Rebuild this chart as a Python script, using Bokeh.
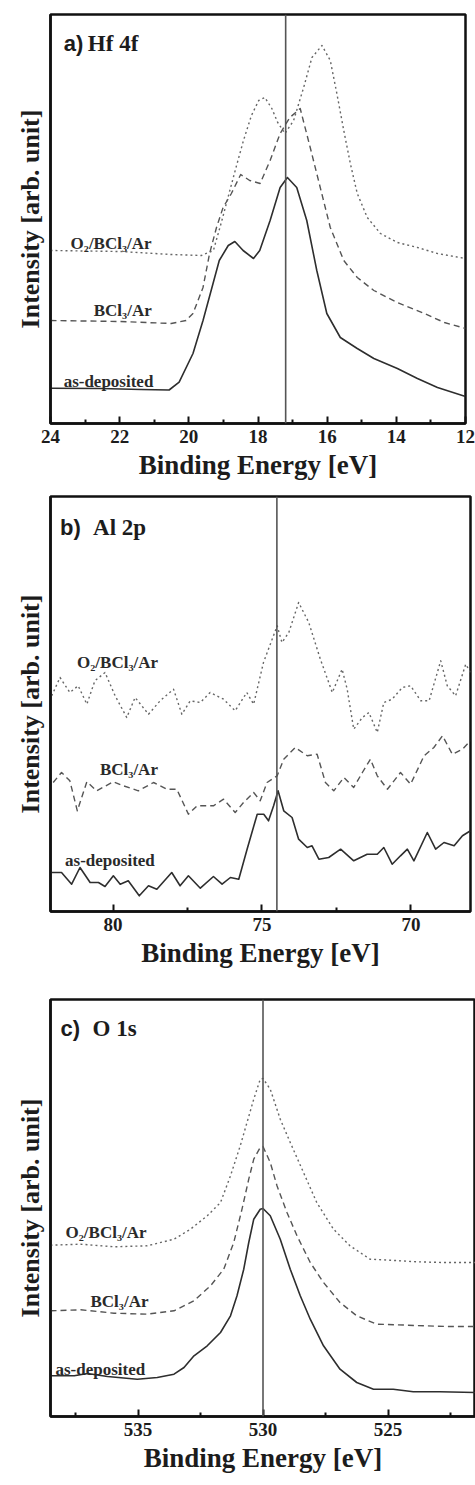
from bokeh.plotting import figure
from bokeh.models import Range1d, FixedTicker, Span, Label
from bokeh.layouts import column
from bokeh.embed import file_html
from bokeh.resources import INLINE

# ---------------- (a) Hf 4f ----------------
hf_asdep_e = [24.0, 22.55, 21.38, 20.57, 20.28, 19.88, 19.59, 19.30, 19.12, 18.86, 18.67, 18.43,
              18.13, 17.95, 17.65, 17.36, 17.15, 16.88, 16.59, 16.30, 16.01, 15.62, 15.13, 14.65,
              13.97, 13.39, 12.81, 12.0]
hf_asdep_i = [35.3, 35, 34, 33.5, 41.3, 70, 103, 140, 163, 178, 182, 173,
              165, 173, 203, 236, 246, 236, 203, 153, 110, 86, 75, 65,
              55, 45, 36, 27]
hf_bcl_e = [24.0, 21.97, 20.51, 20.08, 19.88, 19.59, 19.40, 19.20, 19.01, 18.77, 18.50, 18.24,
            17.94, 17.65, 17.36, 17.08, 16.78, 16.49, 16.20, 15.91, 15.52, 15.13, 14.65, 13.97,
            13.19, 12.61, 12.0]
hf_bcl_i = [103, 102, 100, 103, 110, 136, 170, 196, 216, 230, 249, 243,
            240, 263, 290, 306, 315, 276, 236, 196, 163, 146, 133, 121,
            110, 101, 95]
hf_o2_e = [24.0, 21.97, 20.51, 19.64, 19.29, 19.06, 18.83, 18.62, 18.42, 18.19, 17.98, 17.80,
           17.60, 17.43, 17.22, 16.97, 16.68, 16.44, 16.15, 15.91, 15.72, 15.52, 15.33, 15.13,
           14.84, 14.46, 13.97, 13.39, 12.81, 12.0]
hf_o2_i = [173, 172, 169, 168, 173, 201, 231, 258, 283, 308, 323, 326,
           315, 301, 290, 303, 336, 366, 378, 363, 330, 293, 260, 230,
           206, 190, 181, 176, 170, 165]
hf_ref = 17.2

# ---------------- (b) Al 2p ----------------
al_asdep_e = [82.06, 81.73, 81.39, 81.11, 80.77, 80.49, 80.27, 79.99, 79.76, 79.49, 79.12, 78.81,
              78.53, 78.03, 77.75, 77.47, 77.07, 76.63, 76.34, 76.06, 75.78, 75.50, 75.16, 74.94,
              74.78, 74.61, 74.46, 74.27, 73.99, 73.77, 73.48, 73.32, 73.09, 72.76, 72.36, 71.92,
              71.47, 71.13, 70.91, 70.63, 70.35, 70.12, 69.90, 69.45, 69.17, 68.89, 68.55, 68.27,
              68.0]
al_asdep_i = [39, 39, 27.3, 44, 29, 29, 25, 35.7, 27.3, 30.7, 15.7, 25.7,
              22.3, 39, 25.7, 35.7, 23.3, 35, 27.3, 34, 32.3, 62.3, 97.3, 97.3,
              90.7, 105.7, 120.7, 100.7, 94, 72.3, 64, 65.7, 52.3, 54, 62.3, 50.7,
              57.3, 57.3, 64, 47.3, 55.7, 62.3, 50.7, 79, 62.3, 69, 65.7, 75.7,
              80.7]
al_bcl_e = [82.01, 81.73, 81.45, 81.20, 80.88, 80.55, 79.99, 79.65, 79.15, 78.64, 78.19, 77.86,
            77.47, 77.18, 76.63, 76.29, 75.90, 75.62, 75.28, 75.06, 74.83, 74.49, 74.27, 73.88,
            73.48, 73.15, 72.87, 72.59, 72.25, 71.92, 71.63, 71.36, 71.13, 70.79, 70.35, 70.01,
            69.56, 69.23, 68.94, 68.61, 68.27, 68.0]
al_bcl_i = [129, 139, 130.7, 100.7, 129.7, 120.7, 129.7, 125.7, 120.7, 129, 122.3, 122.3,
            97.3, 105.7, 105.7, 112.3, 99, 109, 119, 110.7, 129, 135.7, 152.3, 164,
            155.7, 157.3, 129, 120.7, 134, 124, 139, 152.3, 135.7, 122.3, 139, 127.3,
            155.7, 164, 175.7, 157.3, 162.3, 170.7]
al_o2_e = [82.06, 81.78, 81.45, 81.17, 80.88, 80.61, 80.27, 79.93, 79.54, 79.26, 78.81, 78.42,
           77.97, 77.69, 77.41, 77.07, 76.74, 76.29, 75.90, 75.51, 75.28, 74.95, 74.49, 74.33,
           74.10, 73.77, 73.43, 73.04, 72.64, 72.31, 72.14, 71.92, 71.63, 71.41, 71.13, 70.91,
           70.63, 70.29, 70.01, 69.67, 69.39, 69.00, 68.78, 68.50, 68.16, 68.0]
al_o2_i = [215.7, 234, 219, 225.7, 207.3, 230.7, 239, 215.7, 194, 214, 197.3, 210.7,
           222.3, 197.3, 210.7, 209, 219, 212.3, 200.7, 219, 207.3, 249, 285.7, 269,
           279, 309, 289, 252.3, 219, 242.3, 222.3, 182.3, 194, 199, 179, 209,
           212.3, 224, 225.7, 210.7, 210.7, 250.7, 225.7, 215.7, 247.3, 239]
al_ref = 74.5

# ---------------- (c) O 1s ----------------
o_asdep_e = [538.5, 537.55, 537.02, 536.22, 535.03, 534.23, 533.56, 533.16, 532.76, 532.23, 531.70,
             531.30, 531.04, 530.77, 530.57, 530.37, 530.11, 530.0, 529.71, 529.31, 528.91, 528.51,
             528.11, 527.58, 526.92, 526.25, 525.58, 524.79, 523.99, 522.93, 521.5]
o_asdep_i = [40.7, 40.7, 43, 40, 37.3, 39, 42.3, 49, 60.7, 70.7, 84,
             100.7, 120.7, 147.3, 174, 197.3, 207.3, 208, 200.7, 177.3, 147.3, 120.7,
             97.3, 70.7, 47.3, 34, 27.3, 27.3, 24.7, 24.7, 24]
o_bcl_e = [538.5, 537.29, 535.96, 534.63, 533.56, 532.76, 532.10, 531.57, 531.17, 530.84, 530.57,
           530.37, 530.11, 530.0, 529.71, 529.44, 529.04, 528.64, 528.11, 527.58, 526.92, 526.25,
           525.45, 524.65, 523.59, 522.53, 521.5]
o_bcl_i = [105.7, 106.7, 103.3, 102.3, 105.7, 115.7, 130.7, 147.3, 174, 207.3, 237.3,
           257.3, 269, 270, 254, 230.7, 204, 180.7, 154, 134, 114, 100.7,
           92.3, 91.7, 90.7, 90, 90]
o_o2_e = [538.5, 537.29, 535.96, 534.63, 533.56, 532.90, 532.23, 531.70, 531.30, 530.91, 530.64,
          530.37, 530.11, 530.0, 529.71, 529.31, 528.91, 528.38, 527.85, 527.18, 526.52, 525.72,
          524.92, 523.86, 522.79, 521.5]
o_o2_i = [171.3, 172.3, 169.7, 170.7, 177.3, 187.3, 200.7, 214, 240.7, 270.7, 294,
          317.3, 337.3, 338, 327.3, 297.3, 274, 244, 214, 187.3, 170.7, 157.3,
          156.3, 154.7, 154, 154]
o_ref = 530.0

series_names = ["as-deposited", "BCl\u2083/Ar", "O\u2082/BCl\u2083/Ar"]
panel_prefix = ["a)", "b)", "c)"]
panel_titles = ["Hf 4f", "Al 2p", "O 1s"]

SERIF = "Liberation Serif"
SANS = "Liberation Sans"
TXT = "#1c1c1c"

line_styles = [
    dict(line_color="#2e2e2e", line_width=1.6, line_dash="solid"),
    dict(line_color="#555555", line_width=1.4, line_dash="6 4"),
    dict(line_color="#666666", line_width=1.4, line_dash="2 3"),
]


def make_panel(cfg):
    p = figure(frame_width=cfg["fw"], frame_height=cfg["fh"],
               x_range=Range1d(cfg["xr"][0], cfg["xr"][1]),
               y_range=Range1d(0, cfg["fh"]),
               min_border_left=cfg["bl"], min_border_right=cfg["br"],
               min_border_top=cfg["bt"], min_border_bottom=cfg["bb"],
               output_backend="svg", toolbar_location=None,
               background_fill_color="white", border_fill_color="white")
    p.grid.visible = False
    p.outline_line_color = "#111111"
    p.outline_line_width = 2.5

    xa = p.xaxis[0]
    xa.ticker = FixedTicker(ticks=cfg["major"], minor_ticks=cfg["minor"])
    xa.axis_label = "Binding Energy [eV]"
    xa.axis_label_text_font = SERIF
    xa.axis_label_text_font_style = "bold"
    xa.axis_label_text_font_size = "27px"
    xa.axis_label_text_color = TXT
    xa.axis_label_standoff = 4
    xa.major_label_text_font = SERIF
    xa.major_label_text_font_style = "bold"
    xa.major_label_text_font_size = "19px"
    xa.major_label_text_color = TXT
    xa.major_label_standoff = 6
    xa.axis_line_width = 2.5
    xa.axis_line_color = "#111111"
    xa.major_tick_in = 7
    xa.major_tick_out = 0
    xa.minor_tick_in = 4
    xa.minor_tick_out = 0
    xa.major_tick_line_width = 2
    xa.minor_tick_line_width = 2
    xa.major_tick_line_color = "#111111"
    xa.minor_tick_line_color = "#111111"

    ya = p.yaxis[0]
    ya.ticker = FixedTicker(ticks=[])
    ya.major_tick_line_color = None
    ya.minor_tick_line_color = None
    ya.major_label_text_font_size = "0px"
    ya.axis_line_width = 2.5
    ya.axis_line_color = "#111111"
    ya.axis_label = "Intensity [arb. unit]"
    ya.axis_label_text_font = SERIF
    ya.axis_label_text_font_style = "bold"
    ya.axis_label_text_font_size = "26px"
    ya.axis_label_text_color = TXT
    ya.axis_label_standoff = 6

    for (e, i), st in zip(cfg["curves"], line_styles):
        p.line(e, i, line_join="round", **st)

    p.add_layout(Span(location=cfg["ref"], dimension="height",
                      line_color="#555555", line_width=1.6))

    for name, (lx, ly) in zip(series_names, cfg["label_pos"]):
        p.add_layout(Label(x=lx, y=ly, text=name, text_font=SERIF,
                           text_font_style="bold", text_font_size="17px",
                           text_color="#2a2a2a", text_baseline="alphabetic"))

    (px, py), (tx, ty) = cfg["title_pos"]
    p.add_layout(Label(x=px, y=py, text=cfg["prefix"], text_font=SANS,
                       text_font_style="bold", text_font_size="22px",
                       text_color=TXT, text_baseline="alphabetic"))
    p.add_layout(Label(x=tx, y=ty, text=cfg["title"], text_font=SERIF,
                       text_font_style="bold", text_font_size="23px",
                       text_color=TXT, text_baseline="alphabetic"))
    return p


panels = [
    dict(fw=415, fh=409, bl=50, br=10, bt=14, bb=57, xr=(24, 12),
         major=[12, 14, 16, 18, 20, 22, 24], minor=[13, 15, 17, 19, 21, 23],
         curves=[(hf_asdep_e, hf_asdep_i), (hf_bcl_e, hf_bcl_i), (hf_o2_e, hf_o2_i)],
         ref=hf_ref,
         label_pos=[(23.62, 42), (22.75, 113), (23.42, 180)],
         title_pos=((23.62, 380), (22.92, 380)),
         prefix=panel_prefix[0], title=panel_titles[0]),
    dict(fw=420, fh=415, bl=50, br=5, bt=14, bb=76, xr=(82.1, 68),
         major=[70, 75, 80], minor=[72.5, 77.5],
         curves=[(al_asdep_e, al_asdep_i), (al_bcl_e, al_bcl_i), (al_o2_e, al_o2_i)],
         ref=al_ref,
         label_pos=[(81.61, 51), (80.44, 142), (81.21, 249)],
         title_pos=((81.78, 384), (80.67, 384)),
         prefix=panel_prefix[1], title=panel_titles[1]),
    dict(fw=425, fh=417, bl=47, br=3, bt=12, bb=71, xr=(538.5, 521.5),
         major=[525, 530, 535], minor=[522.5, 527.5, 532.5, 537.5],
         curves=[(o_asdep_e, o_asdep_i), (o_bcl_e, o_bcl_i), (o_o2_e, o_o2_i)],
         ref=o_ref,
         label_pos=[(538.3, 47), (536.9, 115), (537.9, 184)],
         title_pos=((538.1, 388), (536.82, 388)),
         prefix=panel_prefix[2], title=panel_titles[2]),
]

layout = column(*[make_panel(c) for c in panels], spacing=0)

with open("out.html", "w") as f:
    f.write(file_html(layout, INLINE))
